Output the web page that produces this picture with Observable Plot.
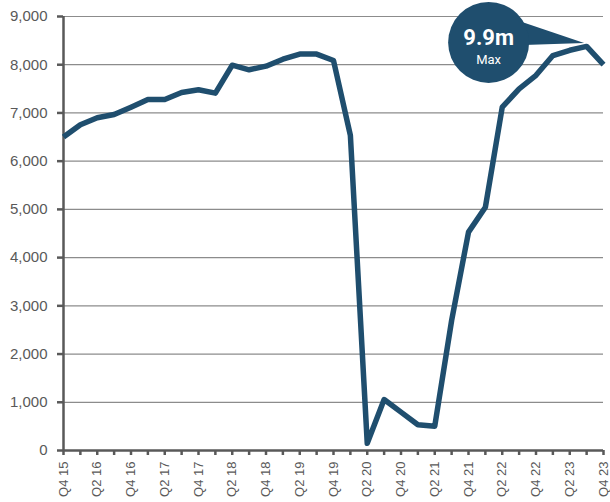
<!DOCTYPE html>
<html>
<head>
<meta charset="utf-8">
<script src="https://cdn.jsdelivr.net/npm/d3@7"></script>
<script src="https://cdn.jsdelivr.net/npm/@observablehq/plot@0.6"></script>
<style>
  html, body { margin: 0; padding: 0; background: #ffffff; }
  #chart { width: 610px; height: 502px; }
</style>
</head>
<body>
<div id="chart"></div>
<script>
// Quarterly series, Q4 2015 – Q4 2023
const quarters = [
  "Q4 15", "Q1 16", "Q2 16", "Q3 16", "Q4 16", "Q1 17", "Q2 17", "Q3 17", "Q4 17",
  "Q1 18", "Q2 18", "Q3 18", "Q4 18", "Q1 19", "Q2 19", "Q3 19", "Q4 19",
  "Q1 20", "Q2 20", "Q3 20", "Q4 20", "Q1 21", "Q2 21", "Q3 21", "Q4 21",
  "Q1 22", "Q2 22", "Q3 22", "Q4 22", "Q1 23", "Q2 23", "Q3 23", "Q4 23"
];
const values = [
  6500, 6755, 6900, 6968, 7120, 7280, 7280, 7424, 7480,
  7410, 7990, 7895, 7970, 8115, 8220, 8220, 8088,
  6533, 150, 1057, 795, 533, 505, 2696, 4528,
  5046, 7120, 7500, 7780, 8190, 8300, 8380, 8000
];
// Labelled quarters on the x axis (every other quarter)
const xLabels = [
  "Q4 15", "Q2 16", "Q4 16", "Q2 17", "Q4 17", "Q2 18", "Q4 18", "Q2 19", "Q4 19",
  "Q2 20", "Q4 20", "Q2 21", "Q4 21", "Q2 22", "Q4 22", "Q2 23", "Q4 23"
];
const yTicks = [0, 1000, 2000, 3000, 4000, 5000, 6000, 7000, 8000, 9000];
const maxLabel = "9.9m";
const maxCaption = "Max";

const navy = "#1f4e6e";
const axisGray = "#595959";

const rows = quarters.map((q, i) => ({q, v: values[i]}));
const peak = rows.reduce((a, b) => (b.v > a.v ? b : a));
const labelSet = new Set(xLabels);

// Bubble offsets relative to the peak point (pixels)
const bx = -98, by = -4;

// Speech-bubble pointer running from the bubble to the peak
function pointer(index, scales) {
  const x = scales.x(peak.q), y = scales.y(peak.v);
  return d3.create("svg:path")
    .attr("d", `M${x - 70},${y - 26}L${x - 2},${y - 3}L${x - 62},${y - 1}Z`)
    .attr("fill", navy)
    .node();
}

const chart = Plot.plot({
  width: 610,
  height: 502,
  marginLeft: 63,
  marginRight: 7,
  marginTop: 16,
  marginBottom: 52,
  style: {fontFamily: "'Liberation Sans', Arial, sans-serif", background: "#ffffff"},
  x: {type: "point", domain: quarters, padding: 0, round: false},
  y: {domain: [0, 9000]},
  marks: [
    Plot.gridY(yTicks, {stroke: "#8c8c8c", strokeOpacity: 1, strokeWidth: 1.2}),
    Plot.axisY(yTicks, {
      tickSize: 6, tickPadding: 10, tickFormat: d3.format(","),
      fontSize: 15, color: axisGray, strokeWidth: 2.5, label: null
    }),
    Plot.axisX({
      ticks: quarters, tickSize: 5, tickPadding: 6, tickRotate: -90,
      tickFormat: d => (labelSet.has(d) ? d : ""),
      fontSize: 13, color: axisGray, strokeWidth: 2.5, label: null
    }),
    Plot.ruleX([quarters[0]], {stroke: axisGray, strokeWidth: 2.5}),
    Plot.ruleY([0], {stroke: axisGray, strokeWidth: 2.5}),
    Plot.line(rows, {x: "q", y: "v", stroke: navy, strokeWidth: 5.5, strokeLinecap: "butt"}),
    pointer,
    Plot.dot([peak], {x: "q", y: "v", r: 40.5, dx: bx, dy: by, fill: navy, stroke: null}),
    Plot.text([peak], {
      x: "q", y: "v", text: () => maxLabel, dx: bx, dy: -8,
      fill: "#ffffff", fontSize: 22, fontWeight: "bold", fontFamily: "Roboto, sans-serif"
    }),
    Plot.text([peak], {
      x: "q", y: "v", text: () => maxCaption, dx: bx, dy: 13,
      fill: "#ffffff", fontSize: 13, fontFamily: "Roboto, sans-serif"
    })
  ]
});

document.getElementById("chart").appendChild(chart);
</script>
</body>
</html>
